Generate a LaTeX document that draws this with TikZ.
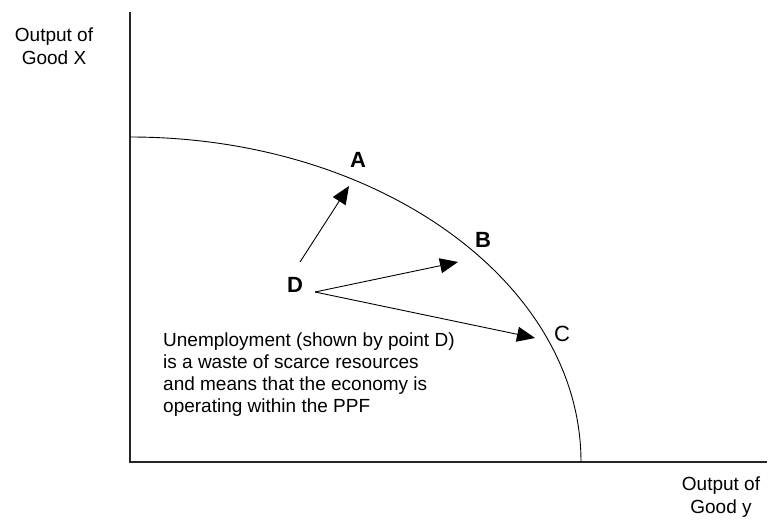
\documentclass[tikz,border=0pt]{standalone}
\usepackage{fontspec}
\setmainfont{Liberation Sans}
\usetikzlibrary{arrows.meta, positioning}

\begin{document}
\begin{tikzpicture}[
    x=1pt, y=1pt,
    axis/.style={line width=1.6pt, color=black!85},
    ppf/.style={line width=0.9pt},
    move/.style={line width=0.9pt, -{Triangle[length=18pt, width=15pt]}},
    axislabel/.style={align=center, font=\fontsize{19}{23}\selectfont},
    point/.style={font=\fontsize{22}{24}\selectfont\bfseries, inner sep=1pt},
    note/.style={align=left, font=\fontsize{19}{22}\selectfont, inner sep=0pt}
]
    \useasboundingbox (0,0) rectangle (768,520);

    % ================= AXES =================
    \coordinate (O) at (130,58);
    \coordinate (ytop) at (130,508);
    \coordinate (xend) at (767,58);
    \draw[axis] (ytop) -- (O) -- (xend);

    \node[axislabel] (ylab) at (54,474) {Output of\\Good X};
    \node[axislabel] (xlab) at (721,23) {Output of\\Good y};

    % ================= PPF CURVE =================
    \coordinate (ppfstart) at (130,383);
    \draw[ppf] (ppfstart) arc[start angle=90, end angle=0, x radius=451pt, y radius=325pt];

    % ================= POINTS =================
    \node[point] (A) at (358,360) {A};
    \node[point] (B) at (483,280) {B};
    \node[point, font=\fontsize{22}{24}\selectfont] (C) at (562,186) {C};
    \node[point] (D) at (295,235) {D};

    % ================= MOVES FROM D =================
    \coordinate (tailA) at (300,258);
    \coordinate (tailBC) at (315,228);
    \coordinate (tipA) at (349,334);
    \coordinate (tipB) at (458,258);
    \coordinate (tipC) at (535,182);

    \draw[move] (tailA) -- (tipA);
    \draw[move] (tailBC) -- (tipB);
    \draw[move] (tailBC) -- (tipC);

    % ================= NOTE =================
    \node[note, anchor=north west] (note) at (163,187)
        {Unemployment (shown by point D)\\
         is a waste of scarce resources\\
         and means that the economy is\\
         operating within the PPF};

\end{tikzpicture}
\end{document}
